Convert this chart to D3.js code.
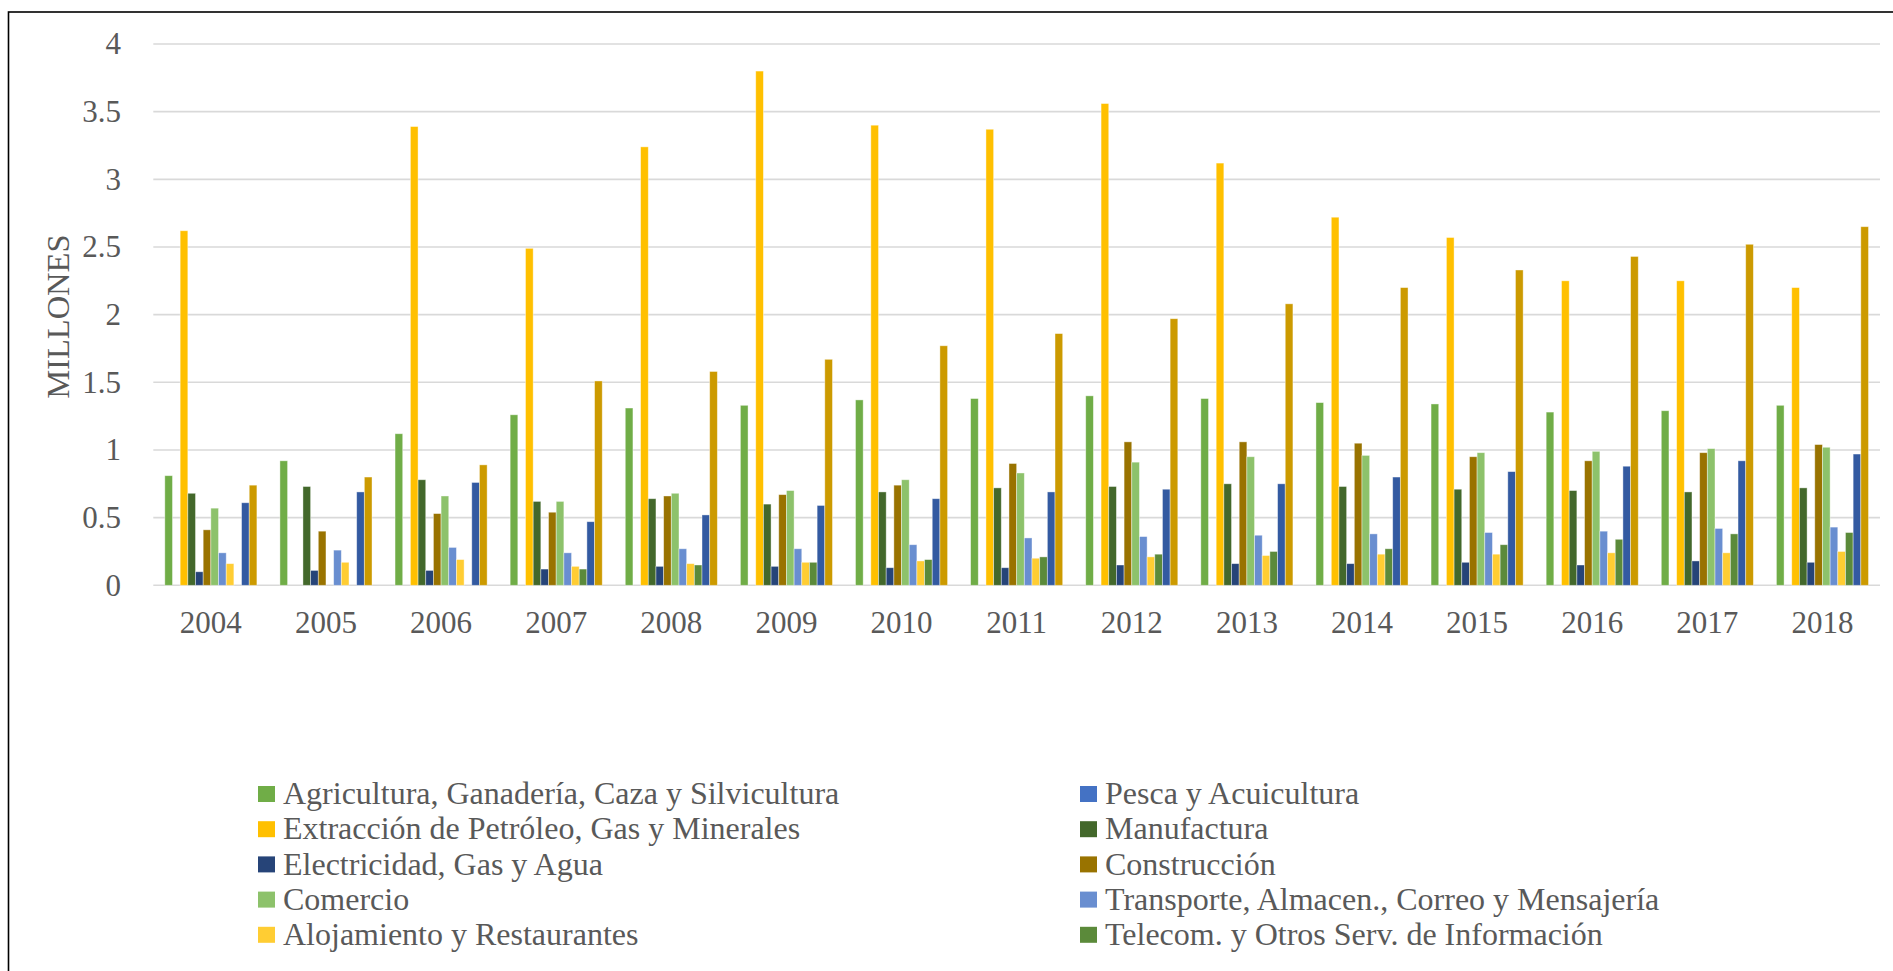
<!DOCTYPE html>
<html>
<head>
<meta charset="utf-8">
<script src="https://cdn.jsdelivr.net/npm/d3@7"></script>
<style>
  html, body { margin: 0; padding: 0; background: #fff; }
  svg { display: block; }
  text { font-family: "Liberation Serif", "Times New Roman", serif; fill: #595959; }
</style>
</head>
<body>
<svg id="chart" width="1893" height="971"></svg>
<script>
// ---- Data (millones) ----
const years = ["2004","2005","2006","2007","2008","2009","2010","2011","2012","2013","2014","2015","2016","2017","2018"];
const yTicks = [0, 0.5, 1, 1.5, 2, 2.5, 3, 3.5, 4];

const agricultura  = [0.81, 0.92, 1.12, 1.26, 1.31, 1.33, 1.37, 1.38, 1.40, 1.38, 1.35, 1.34, 1.28, 1.29, 1.33];
const pesca        = [null, null, null, null, null, null, null, null, null, null, null, null, null, null, null];
const extraccion   = [2.62, null, 3.39, 2.49, 3.24, 3.80, 3.40, 3.37, 3.56, 3.12, 2.72, 2.57, 2.25, 2.25, 2.20];
const manufactura  = [0.68, 0.73, 0.78, 0.62, 0.64, 0.60, 0.69, 0.72, 0.73, 0.75, 0.73, 0.71, 0.70, 0.69, 0.72];
const electricidad = [0.10, 0.11, 0.11, 0.12, 0.14, 0.14, 0.13, 0.13, 0.15, 0.16, 0.16, 0.17, 0.15, 0.18, 0.17];
const construccion = [0.41, 0.40, 0.53, 0.54, 0.66, 0.67, 0.74, 0.90, 1.06, 1.06, 1.05, 0.95, 0.92, 0.98, 1.04];
const comercio     = [0.57, null, 0.66, 0.62, 0.68, 0.70, 0.78, 0.83, 0.91, 0.95, 0.96, 0.98, 0.99, 1.01, 1.02];
const transporte   = [0.24, 0.26, 0.28, 0.24, 0.27, 0.27, 0.30, 0.35, 0.36, 0.37, 0.38, 0.39, 0.40, 0.42, 0.43];
const alojamiento  = [0.16, 0.17, 0.19, 0.14, 0.16, 0.17, 0.18, 0.20, 0.21, 0.22, 0.23, 0.23, 0.24, 0.24, 0.25];
const telecom      = [null, null, null, 0.12, 0.15, 0.17, 0.19, 0.21, 0.23, 0.25, 0.27, 0.30, 0.34, 0.38, 0.39];
const serie11      = [0.61, 0.69, 0.76, 0.47, 0.52, 0.59, 0.64, 0.69, 0.71, 0.75, 0.80, 0.84, 0.88, 0.92, 0.97];
const serie12      = [0.74, 0.80, 0.89, 1.51, 1.58, 1.67, 1.77, 1.86, 1.97, 2.08, 2.20, 2.33, 2.43, 2.52, 2.65];

const seriesNames = [
  "Agricultura, Ganadería, Caza y Silvicultura",
  "Pesca y Acuicultura",
  "Extracción de Petróleo, Gas y Minerales",
  "Manufactura",
  "Electricidad, Gas y Agua",
  "Construcción",
  "Comercio",
  "Transporte, Almacen., Correo y Mensajería",
  "Alojamiento y Restaurantes",
  "Telecom. y Otros Serv. de Información",
  "Serie 11",
  "Serie 12"
];
const seriesValues = [agricultura, pesca, extraccion, manufactura, electricidad, construccion,
                      comercio, transporte, alojamiento, telecom, serie11, serie12];
const seriesColors = ["#70AD47", "#4472C4", "#FFC000", "#43682B", "#264478", "#997300",
                      "#8DC26B", "#698ED0", "#FFCD33", "#5B8A3A", "#335AA1", "#CC9A00"];
const legendCount = 10;

// ---- Layout ----
const svg = d3.select("#chart");
const plot = { left: 153.3, right: 1880, top: 44, bottom: 585.3 };

// frame
svg.append("rect")
  .attr("x", 8.5).attr("y", 12)
  .attr("width", 1910).attr("height", 1000)
  .attr("fill", "none").attr("stroke", "#000").attr("stroke-width", 1.6);

const x0 = d3.scaleBand().domain(years).range([plot.left, plot.right])
  .paddingInner(0.2).paddingOuter(0.1);
const x1 = d3.scaleBand().domain(d3.range(seriesNames.length)).range([0, x0.bandwidth()]).padding(0);
const y = d3.scaleLinear().domain([0, 4]).range([plot.bottom, plot.top]);

// gridlines
svg.append("g").selectAll("line").data(yTicks).join("line")
  .attr("x1", plot.left).attr("x2", plot.right)
  .attr("y1", d => y(d)).attr("y2", d => y(d))
  .attr("stroke", "#D9D9D9").attr("stroke-width", 1.6);

// y axis labels
const yAxis = d3.axisLeft(y).tickValues(yTicks).tickSize(0).tickPadding(0)
  .tickFormat(d => String(d));
const gy = svg.append("g").attr("transform", `translate(121,0)`).call(yAxis);
gy.select(".domain").remove();
gy.selectAll("text").style("font-family", '"Liberation Serif", serif')
  .style("font-size", "31px").attr("fill", "#595959");

// x axis labels
const xAxis = d3.axisBottom(x0).tickSize(0).tickPadding(0);
const gx = svg.append("g").attr("transform", `translate(0,${plot.bottom})`).call(xAxis);
gx.select(".domain").remove();
gx.selectAll("text").style("font-family", '"Liberation Serif", serif')
  .style("font-size", "31px").attr("fill", "#595959").attr("dy", "1.55em");

// bars
const groups = svg.append("g").selectAll("g").data(years).join("g")
  .attr("transform", d => `translate(${x0(d)},0)`);
groups.selectAll("rect")
  .data((yr, i) => seriesValues.map((vals, s) => ({ s, v: vals[i] })).filter(d => d.v != null))
  .join("rect")
  .attr("x", d => x1(d.s))
  .attr("width", x1.bandwidth())
  .attr("y", d => y(d.v))
  .attr("height", d => y(0) - y(d.v))
  .attr("fill", d => seriesColors[d.s])
  .attr("stroke", "#ffffff").attr("stroke-opacity", 0.5).attr("stroke-width", 0.8);

// y-axis title
svg.append("text")
  .attr("transform", `translate(69,${(plot.top + plot.bottom) / 2 + 2}) rotate(-90)`)
  .attr("text-anchor", "middle")
  .style("font-size", "32.5px")
  .text("MILLONES");

// legend
const legendItems = d3.range(legendCount);
const colX = [258, 1080];
const rowY0 = 794, rowStep = 35.2;
const lg = svg.append("g").selectAll("g").data(legendItems).join("g")
  .attr("transform", i => `translate(${colX[i % 2]},${rowY0 + Math.floor(i / 2) * rowStep})`);
lg.append("rect").attr("x", 0).attr("y", -8).attr("width", 17).attr("height", 16)
  .attr("fill", i => seriesColors[i]);
lg.append("text").attr("x", 25).attr("y", 0).attr("dy", "0.32em")
  .style("font-size", "32px")
  .text(i => seriesNames[i]);
</script>
</body>
</html>
